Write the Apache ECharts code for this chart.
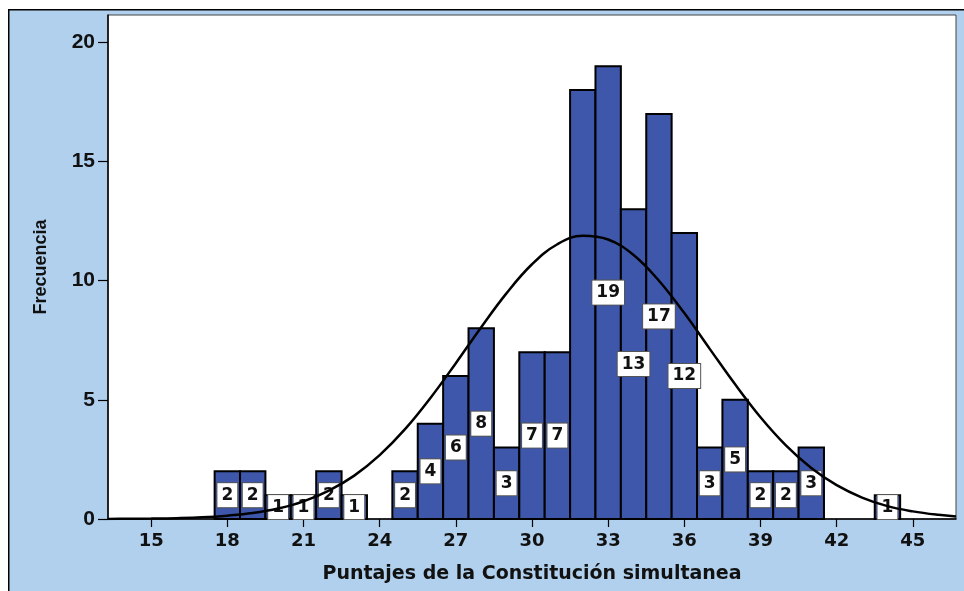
<!DOCTYPE html>
<html>
<head>
<meta charset="utf-8">
<script src="https://cdn.jsdelivr.net/npm/echarts@6/dist/echarts.min.js"></script>
<style>
  html, body { margin: 0; padding: 0; background: #fff; }
  #chart { width: 964px; height: 591px; }
</style>
</head>
<body>
<div id="chart"></div>
<script>
// puntajes (centro de cada barra) y frecuencias
var scores = [18, 19, 20, 21, 22, 23, 25, 26, 27, 28, 29, 30, 31, 32, 33, 34, 35, 36, 37, 38, 39, 40, 41, 44];
var counts = [2, 2, 1, 1, 2, 1, 2, 4, 6, 8, 3, 7, 7, 18, 19, 13, 17, 12, 3, 5, 2, 2, 3, 1];
// la barra de 32 no lleva etiqueta en el original
var unlabeled = [32];

// curva normal
var curveX = [13.3, 14, 15, 16, 17, 18, 19, 20, 21, 22, 23, 24, 25, 26, 27, 28, 29, 30, 31, 32,
  33, 34, 35, 36, 37, 38, 39, 40, 41, 42, 43, 44, 45, 46, 46.7];
var curveY = [0.004, 0.008, 0.017, 0.035, 0.07, 0.14, 0.25, 0.44, 0.74, 1.19, 1.82, 2.68, 3.77, 5.08, 6.54, 8.05, 9.48, 10.69, 11.53, 11.89,
  11.73, 11.08, 10.0, 8.64, 7.14, 5.65, 4.27, 3.09, 2.14, 1.42, 0.9, 0.54, 0.32, 0.175, 0.11];

var xTicks = [15, 18, 21, 24, 27, 30, 33, 36, 39, 42, 45];
var yTicks = [0, 5, 10, 15, 20];

var barData = scores.map(function (s, i) { return [s, counts[i]]; });
var labelData = barData.filter(function (d) { return unlabeled.indexOf(d[0]) < 0; });
var curveData = curveX.map(function (x, i) { return [x, curveY[i]]; });

var myChart = echarts.init(document.getElementById("chart"));

var option = {
  animation: false,
  graphic: [
    {
      type: "rect",
      left: 8, top: 9,
      shape: { width: 964, height: 590 },
      style: { fill: "#b0d0ee", stroke: "#000", lineWidth: 1.5 },
      z: -10
    }
  ],
  grid: {
    left: 108, top: 15, right: 8, bottom: 72,
    show: true,
    backgroundColor: "#fff",
    borderColor: "#444",
    borderWidth: 1
  },
  xAxis: {
    type: "value",
    min: 13.3,
    max: 46.7,
    name: "Puntajes de la Constitución simultanea",
    nameLocation: "middle",
    nameGap: 46,
    nameTextStyle: { fontFamily: "DejaVu Sans", fontWeight: "bold", fontSize: 19, color: "#111" },
    axisLine: { lineStyle: { color: "#000", width: 1.5 } },
    axisTick: { show: true, length: 8, customValues: xTicks, lineStyle: { color: "#000", width: 1.2 } },
    axisLabel: { customValues: xTicks, margin: 13, fontFamily: "DejaVu Sans", fontWeight: "bold", fontSize: 18, color: "#111" },
    splitLine: { show: false }
  },
  yAxis: {
    type: "value",
    min: 0,
    max: 21.15,
    name: "Frecuencia",
    nameLocation: "middle",
    nameGap: 58,
    nameTextStyle: { fontFamily: "Liberation Sans", fontWeight: "bold", fontSize: 18, color: "#111" },
    axisLine: { show: true, lineStyle: { color: "#000", width: 1.5 } },
    axisTick: { show: true, length: 10, customValues: yTicks, lineStyle: { color: "#000", width: 1.2 } },
    axisLabel: { customValues: yTicks, margin: 13, fontFamily: "Liberation Sans", fontWeight: "bold", fontSize: 21, color: "#111" },
    splitLine: { show: false }
  },
  series: [
    {
      type: "custom",
      name: "barras",
      z: 2,
      data: barData,
      renderItem: function (params, api) {
        var x = api.value(0), y = api.value(1);
        var p0 = api.coord([x - 0.5, y]);
        var p1 = api.coord([x + 0.5, 0]);
        return {
          type: "rect",
          shape: { x: p0[0], y: p0[1], width: p1[0] - p0[0], height: p1[1] - p0[1] },
          style: { fill: "#3e57aa", stroke: "#000", lineWidth: 2 }
        };
      }
    },
    {
      type: "custom",
      name: "etiquetas",
      z: 3,
      data: labelData,
      renderItem: function (params, api) {
        var x = api.value(0), y = api.value(1);
        var p = api.coord([x, y / 2]);
        return {
          type: "text",
          x: p[0], y: p[1],
          style: {
            text: String(y),
            align: "center",
            verticalAlign: "middle",
            font: "bold 17px 'DejaVu Sans'",
            fill: "#111",
            backgroundColor: "#fff",
            borderColor: "#555",
            borderWidth: 1,
            padding: [4, 4, 3, 4]
          }
        };
      }
    },
    {
      type: "line",
      name: "normal",
      z: 4,
      data: curveData,
      smooth: 0.4,
      showSymbol: false,
      lineStyle: { color: "#000", width: 2.5 }
    }
  ]
};

myChart.setOption(option);
</script>
</body>
</html>
